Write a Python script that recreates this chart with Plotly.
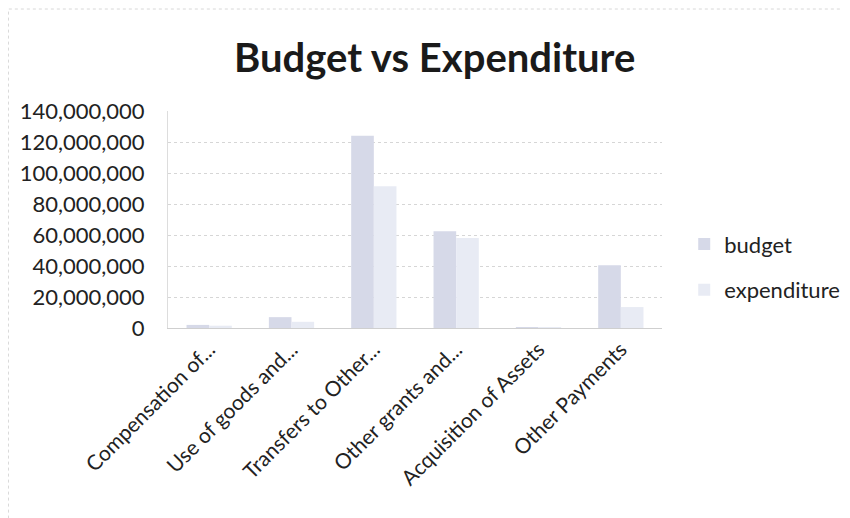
import plotly.graph_objects as go

categories = ["Compensation of...", "Use of goods and...", "Transfers to Other...",
              "Other grants and...", "Acquisition of Assets", "Other Payments"]
budget = [2000000, 7000000, 124000000, 62500000, 500000, 40500000]
expenditure = [1500000, 4000000, 91500000, 58000000, 300000, 13500000]
y_ticks = [0, 20000000, 40000000, 60000000, 80000000, 100000000, 120000000, 140000000]

font_family = "Lato, Open Sans, sans-serif"

fig = go.Figure()
fig.add_trace(go.Bar(name="budget", x=categories, y=budget, legendgroup="b",
                     marker=dict(color="#d6d9e8", line=dict(width=0))))
fig.add_trace(go.Bar(name="expenditure", x=categories, y=expenditure, legendgroup="e",
                     marker=dict(color="#e8ebf4", line=dict(width=0))))

fig.update_layout(
    width=850, height=518,
    paper_bgcolor="white", plot_bgcolor="white",
    barmode="group", bargap=0.45, bargroupgap=0,
    margin=dict(l=160, r=196, t=103, b=198),
    title=dict(text="<b>Budget vs Expenditure</b>", x=0.502, xanchor="center",
               y=0.903, yanchor="middle",
               font=dict(family=font_family, size=40, color="#1a1a1a")),
    font=dict(family=font_family, color="#222"),
    legend=dict(x=1.045, y=0.28, xanchor="left", yanchor="middle",
                font=dict(size=22, color="#222"), itemwidth=30,
                tracegroupgap=14, bgcolor="rgba(0,0,0,0)"),
    yaxis=dict(range=[0, 140000000], tickvals=y_ticks, tickformat=",d",
               showgrid=True, gridcolor="#d6d6d6", griddash="dot", gridwidth=1,
               zeroline=False, showline=True, linecolor="#dddddd", linewidth=1,
               ticks="", ticklen=0, tickfont=dict(size=22, color="#222"),
               ticklabelstandoff=18),
    xaxis=dict(tickangle=-45, tickfont=dict(size=21, color="#222"),
               showline=True, linecolor="#cfcfcf", ticks=""),
    shapes=[dict(type="rect", xref="paper", yref="paper",
                 x0=-0.323, x1=1.376, y0=-0.93, y1=1.47,
                 line=dict(color="#d8d8d8", width=1, dash="dot"))],
)

fig.write_html("out.html")
